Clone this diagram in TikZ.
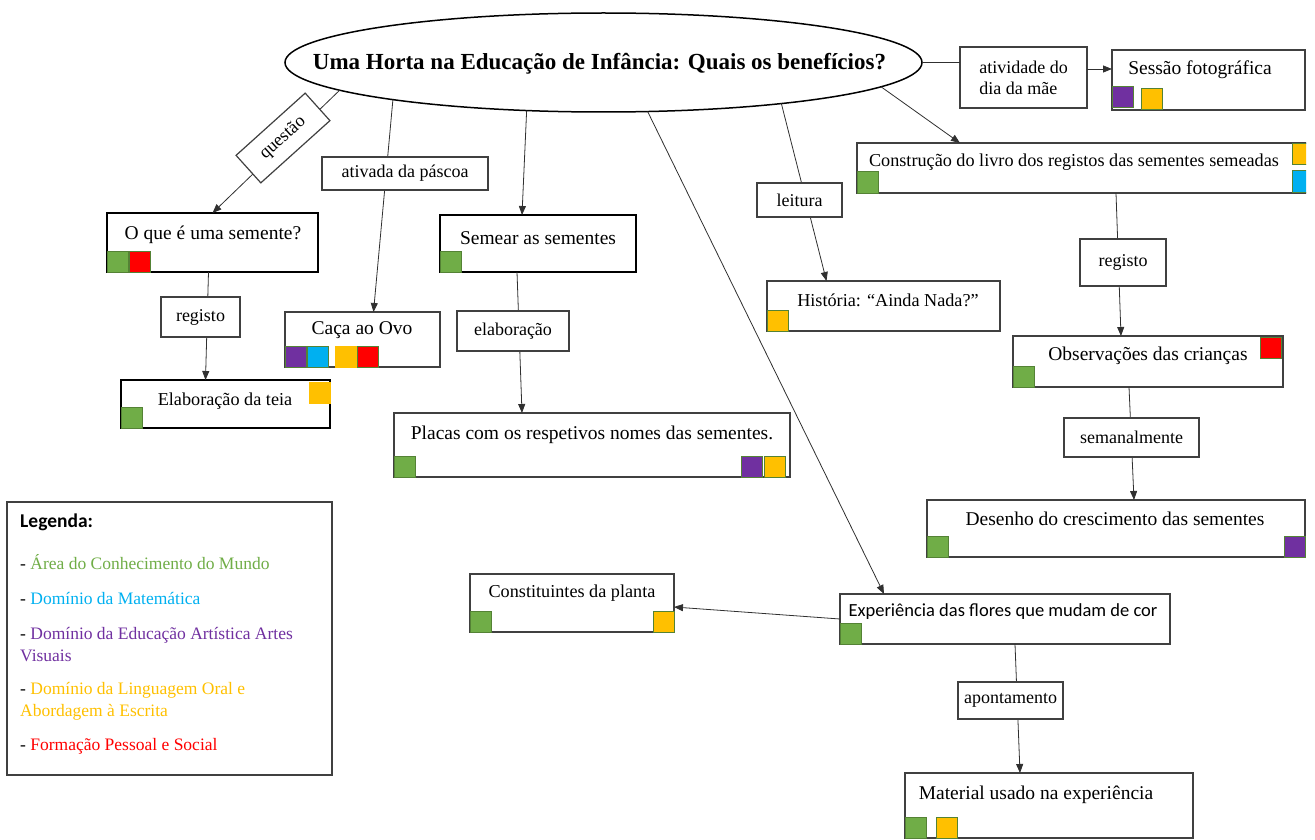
\documentclass[tikz,border=0pt]{standalone}
\usepackage{fontspec}
\setmainfont{Liberation Serif}
\newfontfamily\calibfont{Carlito}
\usetikzlibrary{arrows.meta,shapes.geometric}

\definecolor{cgreen}{HTML}{70AD47}
\definecolor{ccyan}{HTML}{00B0F0}
\definecolor{cpurple}{HTML}{7030A0}
\definecolor{cyellow}{HTML}{FFC000}
\definecolor{cred}{HTML}{FF0000}
\definecolor{sqedge}{HTML}{548235}
\definecolor{boxgray}{HTML}{404040}
\definecolor{linegray}{HTML}{303030}

\begin{document}
\begin{tikzpicture}[x=1pt,y=-1pt,
  box/.style={draw=boxgray, line width=1.3pt, anchor=north west, inner sep=0pt, outer sep=0pt},
  heavybox/.style={box, draw=black, line width=2.5pt},
  lbl/.style={draw=boxgray, line width=1.2pt, fill=white, inner sep=0pt, outer sep=0pt,
    font=\fontsize{18}{21}\selectfont},
  txt/.style={inner sep=0pt, font=\fontsize{19.5}{22}\selectfont},
  smalltxt/.style={inner sep=0pt, font=\fontsize{18.2}{22}\selectfont},
  sq/.style={draw=sqedge, line width=1pt, minimum size=21pt, inner sep=0pt, outer sep=0pt},
  conn/.style={draw=linegray, line width=0.8pt},
  arr/.style={conn, -{Triangle[length=9pt,width=7pt]}},
  legtxt/.style={inner sep=0pt, anchor=west, align=left, font=\fontsize{17.5}{22}\selectfont},
]
\useasboundingbox (0,0) rectangle (1315,840);
\clip (0,0) rectangle (1306,840);

% central question
\node[ellipse, draw=black, line width=1.5pt, minimum width=637pt, minimum height=99pt,
      inner sep=0pt, outer sep=0pt] (ell) at (603.5,62.5) {};
\node[inner sep=0pt, font=\bfseries\fontsize{23}{26}\selectfont] (ttl) at (599.5,64)
  {Uma Horta na Educação de Infância: Quais os benefícios?};

% boxes
\node[heavybox, minimum width=211pt, minimum height=59pt] (oque) at (107,213) {};
\node[box, minimum width=155pt, minimum height=55pt] (caca) at (285,312) {};
\node[heavybox, minimum width=209pt, minimum height=48pt] (elab) at (121,380) {};
\node[heavybox, minimum width=196pt, minimum height=57pt] (semear) at (440,215) {};
\node[box, minimum width=396pt, minimum height=64pt] (placas) at (394,413) {};
\node[box, minimum width=233pt, minimum height=50pt] (historia) at (767,281) {};
\node[box, minimum width=193pt, minimum height=60pt] (sessao) at (1112,50) {};
\node[box, minimum width=470pt, minimum height=50pt] (cons) at (857,143) {};
\node[box, minimum width=270pt, minimum height=51pt] (obs) at (1013,336) {};
\node[box, minimum width=378pt, minimum height=57pt] (desenho) at (927,500) {};
\node[box, minimum width=330pt, minimum height=50pt] (exp) at (840,594) {};
\node[box, minimum width=204pt, minimum height=58pt] (const) at (470,574) {};
\node[box, minimum width=288pt, minimum height=65pt] (material) at (905,773) {};
\node[box, minimum width=325pt, minimum height=273pt] (legend) at (7,502) {};

% box texts
\node[txt] (oque-t) at (213,235) {O que é uma semente?};
\node[txt] (caca-t) at (362,330) {Caça ao Ovo};
\node[smalltxt] (elab-t) at (225,401) {Elaboração da teia};
\node[txt] (semear-t) at (538,238) {Semear as sementes};
\node[txt] (placas-t) at (592,435) {Placas com os respetivos nomes das sementes.};
\node[smalltxt] (historia-t) at (888,300) {História: “Ainda Nada?”};
\node[txt] (sessao-t) at (1200,70) {Sessão fotográfica};
\node[smalltxt] (cons-t) at (1074,162) {Construção do livro dos registos das sementes semeadas};
\node[txt] (obs-t) at (1148,356) {Observações das crianças};
\node[txt] (desenho-t) at (1115,519) {Desenho do crescimento das sementes};
\node[txt, font=\calibfont\fontsize{18.5}{22}\selectfont] (exp-t) at (1003,612) {Experiência das flores que mudam de cor};
\node[smalltxt] (const-t) at (572,593) {Constituintes da planta};
\node[txt] (material-t) at (1036,795) {Material usado na experiência};

% area markers
\node[sq, fill=cgreen, anchor=south west] (oque-g) at (oque.south west) {};
\node[sq, fill=cred, anchor=south west] (oque-r) at ([xshift=22pt]oque.south west) {};
\node[sq, fill=cpurple, anchor=south west] (caca-p) at (caca.south west) {};
\node[sq, fill=ccyan, anchor=south west] (caca-c) at ([xshift=22pt]caca.south west) {};
\node[sq, fill=cyellow, anchor=south west, draw=cyellow] (caca-y) at ([xshift=50pt]caca.south west) {};
\node[sq, fill=cred, anchor=south west] (caca-r) at ([xshift=72pt]caca.south west) {};
\node[sq, fill=cgreen, anchor=south west] (elab-g) at (elab.south west) {};
\node[sq, fill=cyellow, anchor=north east, draw=cyellow] (elab-y) at ([yshift=-2pt]elab.north east) {};
\node[sq, fill=cgreen, anchor=south west] (semear-g) at (semear.south west) {};
\node[sq, fill=cgreen, anchor=south west] (placas-g) at (placas.south west) {};
\node[sq, fill=cyellow, anchor=south east] (placas-y) at ([xshift=-5pt]placas.south east) {};
\node[sq, fill=cpurple, anchor=south east] (placas-p) at ([xshift=-28pt]placas.south east) {};
\node[sq, fill=cyellow, anchor=south west] (historia-y) at (historia.south west) {};
\node[sq, fill=cpurple, anchor=south west] (sessao-p) at ([yshift=2pt]sessao.south west) {};
\node[sq, fill=cyellow, anchor=south west] (sessao-y) at ([xshift=29pt]sessao.south west) {};
\node[sq, fill=cgreen, anchor=south west] (cons-g) at (cons.south west) {};
\node[sq, fill=cyellow, anchor=north west] (cons-y) at ([xshift=435pt,yshift=-1pt]cons.north west) {};
\node[sq, fill=ccyan, anchor=south west] (cons-c) at ([xshift=435pt,yshift=1pt]cons.south west) {};
\node[sq, fill=cred, anchor=north east] (obs-r) at ([xshift=-2pt,yshift=-1pt]obs.north east) {};
\node[sq, fill=cgreen, anchor=south west] (obs-g) at (obs.south west) {};
\node[sq, fill=cgreen, anchor=south west] (desenho-g) at (desenho.south west) {};
\node[sq, fill=cpurple, anchor=south east] (desenho-p) at (desenho.south east) {};
\node[sq, fill=cgreen, anchor=south west] (exp-g) at (exp.south west) {};
\node[sq, fill=cgreen, anchor=south west] (const-g) at (const.south west) {};
\node[sq, fill=cyellow, anchor=south east] (const-y) at (const.south east) {};
\node[sq, fill=cgreen, anchor=south west] (material-g) at (material.south west) {};
\node[sq, fill=cyellow, anchor=south west] (material-y) at ([xshift=31pt]material.south west) {};

% connectors
\draw[arr] (ell.186) -- (oque.north);
\draw[arr] (ell.190) -- ([xshift=11pt]caca.north);
\draw[arr] (ell.212) -- ([xshift=-16pt]semear.north);
\draw[arr] ([xshift=-4pt]oque.south) -- ([xshift=-20pt]elab.north);
\draw[arr] ([xshift=-21pt]semear.south) -- ([xshift=-70pt]placas.north);
\draw[arr] (ell.312) -- ([xshift=-121pt]exp.north);
\draw[arr] (ell.347) -- ([xshift=-57pt]historia.north);
\draw[arr] (ell.355.7) -- ([xshift=103pt]cons.north west);
\draw[arr] ([xshift=24pt]cons.south) -- ([xshift=-27pt]obs.north);
\draw[arr] ([xshift=-19pt]obs.south) -- ([xshift=18pt]desenho.north);
\draw[arr] (exp.west) -- ([yshift=-4pt]const.east);
\draw[arr] ([xshift=10pt]exp.south) -- ([xshift=-29pt]material.north);

% connector labels
\node[lbl, rotate=42, minimum width=93pt, minimum height=37pt] (q-lbl) at (283,138) {questão};
\node[lbl, minimum width=166pt, minimum height=33pt] (pasc-lbl) at (405,173.5) {ativada da páscoa};
\node[lbl, minimum width=79pt, minimum height=40pt] (reg1-lbl) at (200.5,317) {registo};
\node[lbl, minimum width=112pt, minimum height=40pt] (elab-lbl) at (513,331) {elaboração};
\node[lbl, minimum width=85pt, minimum height=34pt] (leit-lbl) at (799.5,200) {leitura};
\node[lbl, minimum width=127pt, minimum height=61pt, align=left] (ativ) at (1023.5,77.5)
  {atividade do\\dia da mãe};
\node[lbl, minimum width=86pt, minimum height=47pt] (reg2-lbl) at (1123,262.5) {registo};
\node[lbl, minimum width=135pt, minimum height=39pt] (sem-lbl) at (1131.5,437.5) {semanalmente};
\node[lbl, minimum width=105pt, minimum height=37pt] (apont-lbl) at (1010.5,700.5) {apontamento};

% mother's day activity
\draw[conn] (ell.east) -- (ell.east -| ativ.west);
\draw[arr] ([yshift=8.5pt]ativ.east) -- ([yshift=8.5pt]ativ.east -| sessao.west);

% legend
\node[inner sep=0pt, anchor=west, font=\calibfont\bfseries\fontsize{19.5}{22}\selectfont] (leg-title) at (20,522) {Legenda:};
\node[legtxt] (leg-1) at (20,562) {- \textcolor{cgreen}{Área do Conhecimento do Mundo}};
\node[legtxt] (leg-2) at (20,598) {- \textcolor{ccyan}{Domínio da Matemática}};
\node[legtxt, text=cpurple] (leg-3) at (20,645) {\textcolor{black}{-} Domínio da Educação Artística Artes\\Visuais};
\node[legtxt, text=cyellow] (leg-4) at (20,701) {\textcolor{black}{-} Domínio da Linguagem Oral e\\Abordagem à Escrita};
\node[legtxt] (leg-5) at (20,746) {- \textcolor{cred}{Formação Pessoal e Social}};
\end{tikzpicture}
\end{document}
